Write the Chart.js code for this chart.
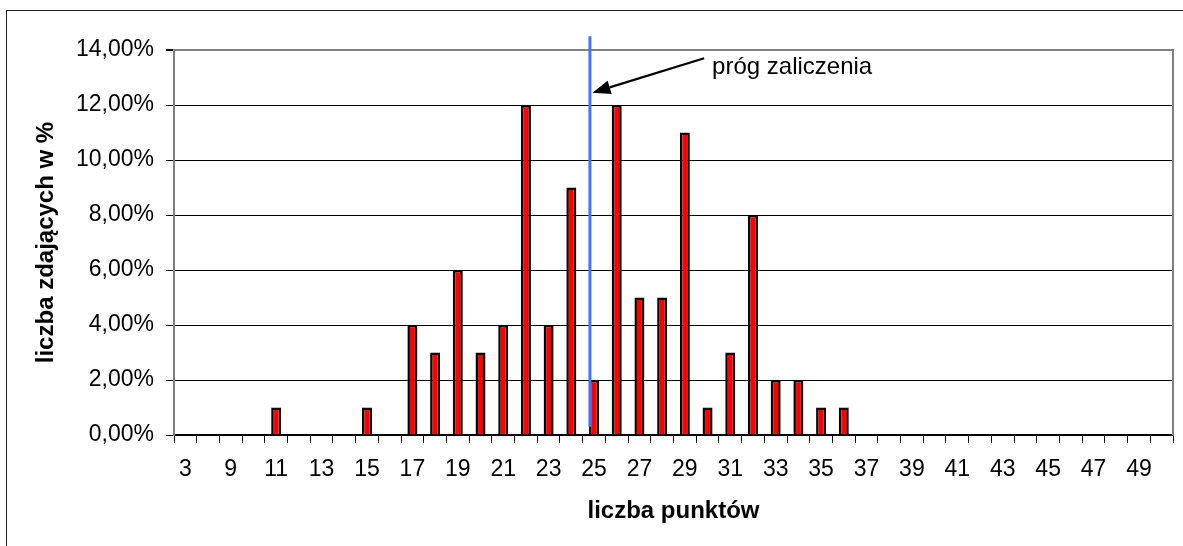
<!DOCTYPE html>
<html>
<head>
<meta charset="utf-8">
<script src="https://cdn.jsdelivr.net/npm/chart.js@4.4.1/dist/chart.umd.min.js"></script>
<style>
  html, body { margin: 0; padding: 0; background: #fff; overflow: hidden; }
  #wrap { position: absolute; left: 0; top: 0; width: 1183px; height: 546px; }
  #frame { position: absolute; left: 6px; top: 10px; width: 1400px; height: 800px; border: 1.5px solid #222; }
</style>
</head>
<body>
<div id="wrap"><canvas id="myChart"></canvas></div>
<div id="frame"></div>
<script>
// liczba punktow (categories on the x axis)
var categories = ['3', '7', '9', '10', '11', '12', '13', '14', '15', '16', '17', '18', '19', '20',
  '21', '22', '23', '24', '25', '26', '27', '28', '29', '30', '31', '32', '33', '34', '35', '36',
  '37', '38', '39', '40', '41', '42', '43', '44', '45', '46', '47', '48', '49', '50'];

// percentage of students for each score
var percents = [0, 0, 0, 0, 1, 0, 0, 0, 1, 0, 4, 3, 6, 3, 4, 12, 4, 9, 2, 12, 5, 5, 11, 1, 3, 8, 2, 2, 1, 1,
  0, 0, 0, 0, 0, 0, 0, 0, 0, 0, 0, 0, 0, 0];

var yTicks = [0, 2, 4, 6, 8, 10, 12, 14];

// pass threshold marker (score, % range) and its note
var thresholdScore = 24.82;
var thresholdRange = [0.3, 14.5];
var arrowFrom = [29.85, 13.7];
var arrowTo = [24.93, 12.45];
var noteAt = [30.2, 13.36];
var noteText = 'próg zaliczenia';

var FONT = "'Liberation Sans', Arial, sans-serif";

// turn a (fractional) score into an x pixel through the category scale
function scoreToPixel(xScale, score) {
  var base = Math.floor(score);
  var idx = categories.indexOf(String(base));
  return xScale.getPixelForValue(idx + (score - base));
}

var thresholdPlugin = {
  id: 'threshold',
  beforeDatasetsDraw: function (chart) {
    var ctx = chart.ctx, area = chart.chartArea;
    ctx.save();
    ctx.strokeStyle = '#808080';
    ctx.lineWidth = 2;
    ctx.beginPath();
    ctx.moveTo(area.right, area.top - 1);
    ctx.lineTo(area.right, area.bottom);
    ctx.stroke();
    ctx.restore();
  },
  afterDatasetsDraw: function (chart) {
    var ctx = chart.ctx;
    var xs = chart.scales.x, ys = chart.scales.y;

    // blue threshold line
    var lx = scoreToPixel(xs, thresholdScore);
    ctx.save();
    ctx.strokeStyle = '#4472ff';
    ctx.lineWidth = 3;
    ctx.beginPath();
    ctx.moveTo(lx, ys.getPixelForValue(thresholdRange[1]));
    ctx.lineTo(lx, ys.getPixelForValue(thresholdRange[0]));
    ctx.stroke();

    // arrow
    var x1 = scoreToPixel(xs, arrowFrom[0]), y1 = ys.getPixelForValue(arrowFrom[1]);
    var x2 = scoreToPixel(xs, arrowTo[0]), y2 = ys.getPixelForValue(arrowTo[1]);
    var ang = Math.atan2(y2 - y1, x2 - x1);
    var headLen = 18, headW = 7;
    var bx = x2 - headLen * Math.cos(ang), by = y2 - headLen * Math.sin(ang);
    ctx.strokeStyle = '#000';
    ctx.fillStyle = '#000';
    ctx.lineWidth = 2.2;
    ctx.beginPath();
    ctx.moveTo(x1, y1);
    ctx.lineTo(bx, by);
    ctx.stroke();
    ctx.beginPath();
    ctx.moveTo(x2, y2);
    ctx.lineTo(bx + headW * Math.sin(ang), by - headW * Math.cos(ang));
    ctx.lineTo(bx - headW * Math.sin(ang), by + headW * Math.cos(ang));
    ctx.closePath();
    ctx.fill();

    // note text
    ctx.font = '24px ' + FONT;
    ctx.textAlign = 'left';
    ctx.textBaseline = 'middle';
    ctx.fillText(noteText, scoreToPixel(xs, noteAt[0]), ys.getPixelForValue(noteAt[1]));
    ctx.restore();
  }
};

var data = {
  labels: categories,
  datasets: [{
    label: 'liczba zdających w %',
    data: percents,
    backgroundColor: '#ff0000',
    borderColor: '#000',
    borderWidth: 2.5,
    barPercentage: 0.44,
    categoryPercentage: 1
  }]
};

var config = {
  type: 'bar',
  data: data,
  plugins: [thresholdPlugin],
  options: {
    responsive: true,
    maintainAspectRatio: false,
    animation: false,
    layout: { padding: { top: 50, right: 10, left: 0, bottom: 0 } },
    plugins: {
      legend: { display: false },
      tooltip: { enabled: false }
    },
    scales: {
      x: {
        offset: true,
        afterFit: function (axis) { axis.height = 111; },
        grid: {
          offset: true,
          drawOnChartArea: false,
          drawTicks: true,
          tickLength: 8,
          color: '#000',
          lineWidth: 1
        },
        border: { color: '#000', width: 1.5 },
        ticks: {
          autoSkip: false,
          maxRotation: 0,
          padding: 13,
          color: '#000',
          font: { family: FONT, size: 23 },
          callback: function (v, i) { return i % 2 === 0 ? categories[i] : ''; }
        },
        title: {
          display: true,
          text: 'liczba punktów',
          color: '#000',
          font: { family: FONT, size: 24, weight: 'bold' },
          padding: { top: 0, bottom: 20 }
        }
      },
      y: {
        min: 0,
        max: 14,
        afterFit: function (axis) { axis.width = 174; },
        afterBuildTicks: function (axis) {
          axis.ticks = yTicks.map(function (v) { return { value: v }; });
        },
        grid: {
          drawTicks: true,
          tickLength: 8,
          color: function (c) { return c.tick && c.tick.value === 14 ? '#808080' : '#000'; },
          lineWidth: function (c) { return c.tick && c.tick.value === 14 ? 2 : 1; },
          tickColor: '#000'
        },
        border: { color: '#808080', width: 2 },
        ticks: {
          padding: 12,
          color: '#000',
          font: { family: FONT, size: 23 },
          callback: function (v) { return v.toFixed(2).replace('.', ',') + '%'; }
        },
        title: {
          display: true,
          text: 'liczba zdających w %',
          color: '#000',
          font: { family: FONT, size: 24, weight: 'bold' },
          padding: { top: 32, bottom: 0 }
        }
      }
    }
  }
};

var canvas = document.getElementById('myChart');
var chart = new Chart(canvas, config);
</script>
</body>
</html>
